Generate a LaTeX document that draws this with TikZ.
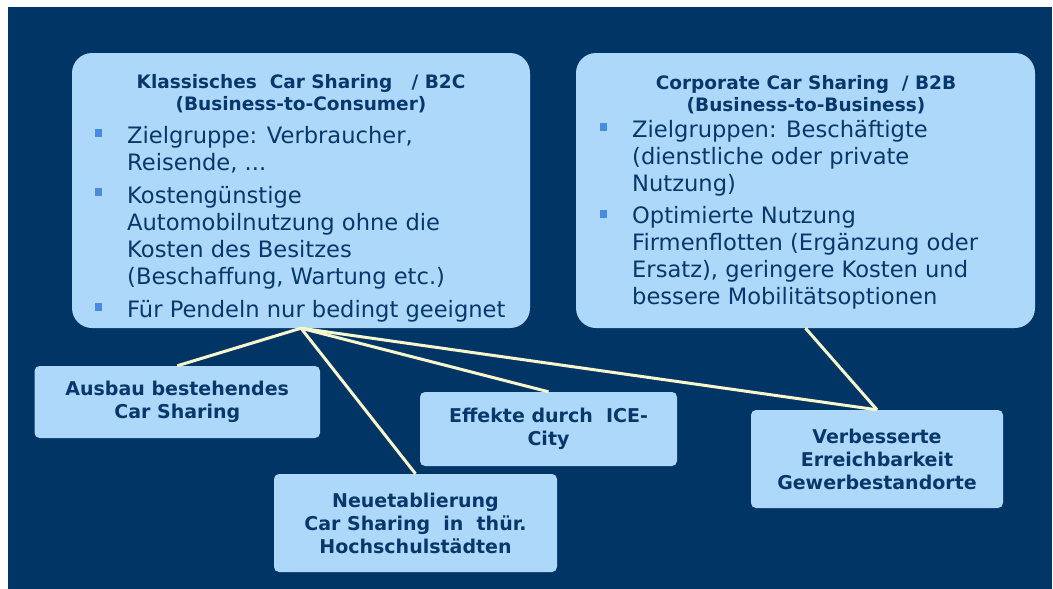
\documentclass[tikz,border=0pt]{standalone}
\usepackage{fontspec}
\setmainfont{DejaVu Sans}
\definecolor{navy}{RGB}{0,53,102}
\definecolor{inktext}{RGB}{8,56,107}
\definecolor{boxfill}{RGB}{173,216,250}
\definecolor{bulletblue}{RGB}{70,140,224}
\definecolor{linkcream}{RGB}{248,246,204}
\tikzset{
  bigbox/.style={fill=boxfill, rounded corners=20pt, inner sep=0pt},
  smallbox/.style={fill=boxfill, rounded corners=5pt, inner sep=0pt,
    text=inktext, align=center,
    font=\bfseries\fontsize{19}{23}\selectfont},
  boxtitle/.style={text=inktext, align=center, inner sep=0pt,
    font=\bfseries\fontsize{18.5}{22}\selectfont},
  % items are placed by the baseline of their last line
  itemtext/.style={text=inktext, align=left, inner sep=0pt, anchor=base west,
    font=\fontsize{22.6}{27}\selectfont},
  bulletsq/.style={fill=bulletblue, inner sep=0pt, minimum size=7.5pt},
  link/.style={draw=linkcream, line width=3pt}
}
\begin{document}
\begin{tikzpicture}[x=1pt,y=-1pt]
  % page and dark panel
  \useasboundingbox (0,0) rectangle (1053,589);
  \fill[white] (0,0) rectangle (1053,589);
  \fill[navy] (8,7) rectangle (1052,589);

  % two main categories
  \node[bigbox, minimum width=458pt, minimum height=275pt] (b2c) at (301,190.5) {};
  \node[bigbox, minimum width=459pt, minimum height=275pt] (b2b) at (805.5,190.5) {};

  % measures
  \node[smallbox, minimum width=285.5pt, minimum height=72pt] (ausbau) at (177.25,402)
    {Ausbau bestehendes\\Car Sharing};
  \node[smallbox, minimum width=257pt, minimum height=74pt] (effekte) at (548.5,429)
    {Effekte durch\ \ ICE-\\City};
  \node[smallbox, minimum width=283pt, minimum height=98pt] (neu) at (415.5,523)
    {Neuetablierung\\Car Sharing\ \ in\ \ thür.\\Hochschulstädten};
  \node[smallbox, minimum width=252pt, minimum height=98pt] (gewerbe) at (877,459)
    {Verbesserte\\Erreichbarkeit\\Gewerbestandorte};

  % connectors
  \draw[link] (b2c.south) -- (ausbau.north);
  \draw[link] (b2c.south) -- (neu.north);
  \draw[link] (b2c.south) -- (effekte.north);
  \draw[link] (b2c.south) -- (gewerbe.north);
  \draw[link] (b2b.south) -- (gewerbe.north);

  % B2C content
  \node[boxtitle] (t2c) at (301,94)
    {Klassisches\ \ Car Sharing\ \ \ / B2C\\(Business-to-Consumer)};
  \node[bulletsq] (c1) at (98.7,133) {};
  \node[itemtext] (ci1) at (127,170) {Zielgruppe: Verbraucher,\\Reisende, ...};
  \node[bulletsq] (c2) at (98.7,192) {};
  \node[itemtext] (ci2) at (127,284)
    {Kostengünstige\\Automobilnutzung ohne die\\Kosten des Besitzes\\(Beschaffung, Wartung etc.)};
  \node[bulletsq] (c3) at (98.7,307) {};
  \node[itemtext] (ci3) at (127,317) {Für Pendeln nur bedingt geeignet};

  % B2B content
  \node[boxtitle] (t2b) at (806,95)
    {Corporate Car Sharing\ \ / B2B\\(Business-to-Business)};
  \node[bulletsq] (p1) at (603.5,127) {};
  \node[itemtext] (pi1) at (632,191)
    {Zielgruppen: Beschäftigte\\(dienstliche oder private\\Nutzung)};
  \node[bulletsq] (p2) at (603.5,214) {};
  \node[itemtext] (pi2) at (632,304)
    {Optimierte Nutzung\\Firmenflotten (Ergänzung oder\\Ersatz), geringere Kosten und\\bessere Mobilitätsoptionen};
\end{tikzpicture}
\end{document}
